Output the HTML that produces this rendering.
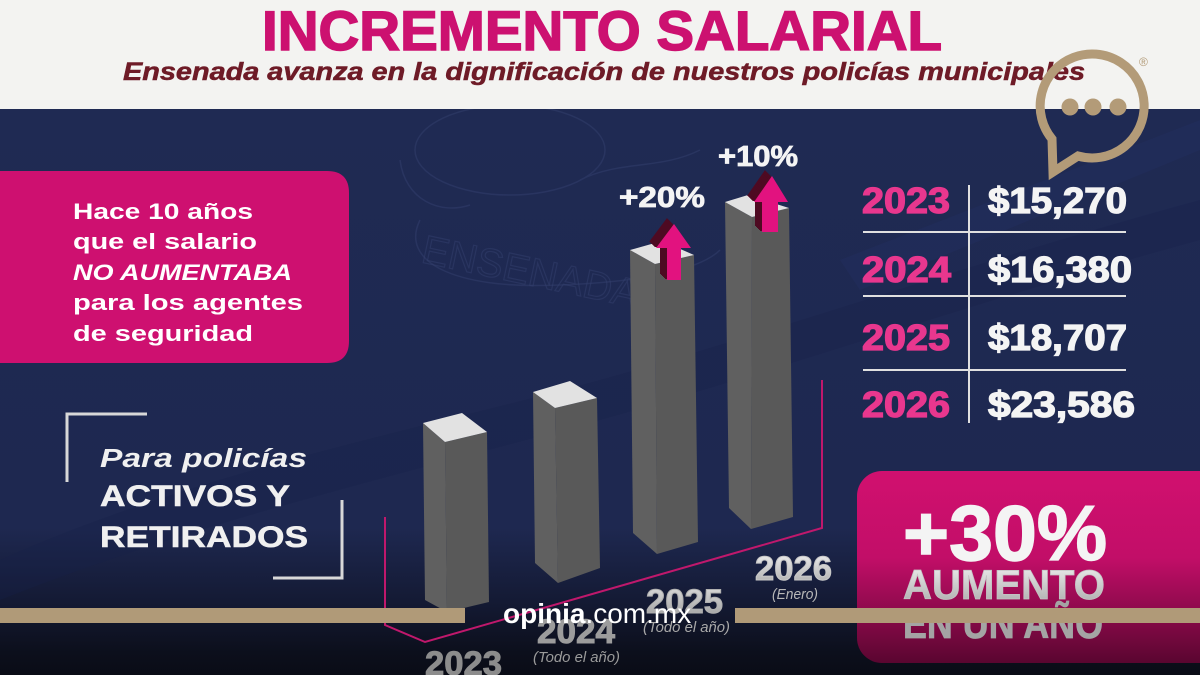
<!DOCTYPE html>
<html><head><meta charset="utf-8"><style>
html,body{margin:0;padding:0;background:#1f2a53;}
svg{display:block;}
text{font-family:"Liberation Sans",sans-serif;}
</style></head><body>
<svg width="1200" height="675" viewBox="0 0 1200 675" xmlns="http://www.w3.org/2000/svg">
<defs>
<linearGradient id="bg" x1="0" y1="109" x2="0" y2="675" gradientUnits="userSpaceOnUse">
<stop offset="0" stop-color="#1f2a53"/>
<stop offset="0.74" stop-color="#1e2850"/>
<stop offset="0.87" stop-color="#141a34"/>
<stop offset="0.96" stop-color="#0c0f1c"/>
<stop offset="1" stop-color="#0a0c16"/>
</linearGradient>
<linearGradient id="pinkbox" x1="0" y1="471" x2="0" y2="663" gradientUnits="userSpaceOnUse">
<stop offset="0" stop-color="#d1106f"/>
<stop offset="0.45" stop-color="#c20e68"/>
<stop offset="1" stop-color="#5a0630"/>
</linearGradient>
<linearGradient id="silver" x1="0" y1="0" x2="0" y2="1">
<stop offset="0" stop-color="#f2f2f2"/>
<stop offset="1" stop-color="#a8a8a8"/>
</linearGradient>
<linearGradient id="silver2" x1="0" y1="0" x2="0" y2="1">
<stop offset="0" stop-color="#e0e0e0"/>
<stop offset="1" stop-color="#9a9a9a"/>
</linearGradient>
</defs>

<!-- background -->
<rect x="0" y="0" width="1200" height="675" fill="url(#bg)"/>
<g opacity="0.3">
<path d="M0,560 C200,470 420,430 600,380 C780,330 980,260 1200,200 L1200,240 C980,300 780,370 600,420 C420,470 200,520 0,600 Z" fill="#18204a"/>
<path d="M840,260 L1200,120 L1200,150 L860,290 Z" fill="#253166"/>
</g>
<!-- faint seal -->
<g fill="none" stroke="#34406e" stroke-width="1.5" opacity="0.5">
<ellipse cx="510" cy="150" rx="95" ry="45"/>
<path d="M400,160 C405,200 440,215 470,205"/>
<path d="M420,220 C400,260 450,290 560,285 C640,282 700,270 720,250"/>
<path d="M580,180 C620,160 660,170 700,150"/>
</g>
<text x="420" y="262" font-size="40" fill="none" stroke="#34406e" stroke-width="1.2" opacity="0.5" transform="rotate(12 420 262)">ENSENADA</text>

<!-- header -->
<rect x="0" y="0" width="1200" height="109" fill="#f3f3f1"/>
<text x="262" y="50" font-size="56" font-weight="bold" fill="#cc1170" stroke="#cc1170" stroke-width="1.5" textLength="680" lengthAdjust="spacingAndGlyphs">INCREMENTO SALARIAL</text>
<g transform="translate(123,80) scale(1,0.88)">
<text x="0" y="0" font-size="28" font-weight="bold" font-style="italic" fill="#6e1b27" stroke="#6e1b27" stroke-width="0.6" textLength="962" lengthAdjust="spacingAndGlyphs">Ensenada avanza en la dignificación de nuestros policías municipales</text>
</g>
<text x="1139" y="66" font-size="12" fill="#b39b78">®</text>

<!-- logo -->
<path d="M1052,139 L1053,172 L1078,156 A52,52 0 1,0 1052,139 Z" fill="none" stroke="#b39b78" stroke-width="9" stroke-linejoin="miter"/>
<g fill="#b39b78">
<circle cx="1070" cy="107" r="8.5"/>
<circle cx="1093" cy="107" r="8.5"/>
<circle cx="1118" cy="107" r="8.5"/>
</g>

<!-- left pink box -->
<path d="M0,171 L327,171 Q349,171 349,193 L349,341 Q349,363 327,363 L0,363 Z" fill="#ce1070"/>
<g fill="#ffffff" font-size="27" font-weight="bold">
<text transform="translate(73,219) scale(1,0.82)" textLength="180" lengthAdjust="spacingAndGlyphs">Hace 10 años</text>
<text transform="translate(73,249) scale(1,0.82)" textLength="184" lengthAdjust="spacingAndGlyphs">que el salario</text>
<text transform="translate(73,280) scale(1,0.82)" font-style="italic" textLength="219" lengthAdjust="spacingAndGlyphs">NO AUMENTABA</text>
<text transform="translate(73,310) scale(1,0.82)" textLength="230" lengthAdjust="spacingAndGlyphs">para los agentes</text>
<text transform="translate(73,341) scale(1,0.82)" textLength="180" lengthAdjust="spacingAndGlyphs">de seguridad</text>
</g>

<!-- bracket -->
<g fill="none" stroke="#d8d8d8" stroke-width="3">
<path d="M147,414 L67,414 L67,482"/>
<path d="M342,500 L342,578 L273,578"/>
</g>
<text transform="translate(100,467) scale(1,0.85)" font-size="31" font-style="italic" font-weight="bold" fill="#f0f0f0" textLength="207" lengthAdjust="spacingAndGlyphs">Para policías</text>
<text transform="translate(100,506) scale(1,0.88)" font-size="34" font-weight="bold" fill="#f0f0f0" stroke="#f0f0f0" stroke-width="0.6" textLength="190" lengthAdjust="spacingAndGlyphs">ACTIVOS Y</text>
<text transform="translate(100,547) scale(1,0.88)" font-size="34" font-weight="bold" fill="#f0f0f0" stroke="#f0f0f0" stroke-width="0.6" textLength="208" lengthAdjust="spacingAndGlyphs">RETIRADOS</text>

<!-- axis line -->
<path d="M385,517 L385,625 L425,642 L822,528 L822,380" fill="none" stroke="#c0186c" stroke-width="2"/>

<!-- bars -->
<g>
<polygon points="423,423 445,442 447,612 425,600" fill="#606060"/>
<polygon points="445,442 487,432 489,602 447,612" fill="#595959"/>
<polygon points="423,423 462,413 487,432 445,442" fill="#e2e2e2"/>
<polygon points="533,392 555,408 558,583 535,563" fill="#606060"/>
<polygon points="555,408 597,398 600,568 558,583" fill="#595959"/>
<polygon points="533,392 570,381 597,398 555,408" fill="#e2e2e2"/>
<polygon points="630,250 655,264 657,554 633,533" fill="#606060"/>
<polygon points="655,264 694,255 698,542 657,554" fill="#595959"/>
<polygon points="630,250 662,241 694,255 655,264" fill="#e2e2e2"/>
<polygon points="725,202 752,217 751,529 729,508" fill="#606060"/>
<polygon points="752,217 789,208 793,517 751,529" fill="#595959"/>
<polygon points="725,202 748,195 789,208 752,217" fill="#e2e2e2"/>
</g>

<!-- arrows -->
<g fill="#4e0a22">
<polygon transform="translate(-7,-6)" points="674,224 691,248 681,248 681,280 667,280 667,248 656,248"/>
<polygon transform="translate(-6,-5)" points="674,224 691,248 681,248 681,280 667,280 667,248 656,248"/>
<polygon transform="translate(-5,-4)" points="674,224 691,248 681,248 681,280 667,280 667,248 656,248"/>
<polygon transform="translate(-4,-3)" points="674,224 691,248 681,248 681,280 667,280 667,248 656,248"/>
<polygon transform="translate(-3,-2)" points="674,224 691,248 681,248 681,280 667,280 667,248 656,248"/>
<polygon transform="translate(-2,-1)" points="674,224 691,248 681,248 681,280 667,280 667,248 656,248"/>
<polygon transform="translate(-7,-6)" points="772,176 788,202 778,202 778,232 762,232 762,202 754,202"/>
<polygon transform="translate(-6,-5)" points="772,176 788,202 778,202 778,232 762,232 762,202 754,202"/>
<polygon transform="translate(-5,-4)" points="772,176 788,202 778,202 778,232 762,232 762,202 754,202"/>
<polygon transform="translate(-4,-3)" points="772,176 788,202 778,202 778,232 762,232 762,202 754,202"/>
<polygon transform="translate(-3,-2)" points="772,176 788,202 778,202 778,232 762,232 762,202 754,202"/>
<polygon transform="translate(-2,-1)" points="772,176 788,202 778,202 778,232 762,232 762,202 754,202"/>
</g>
<g fill="#e2127f">
<polygon points="674,224 691,248 681,248 681,280 667,280 667,248 656,248"/>
<polygon points="772,176 788,202 778,202 778,232 762,232 762,202 754,202"/>
</g>
<text x="619" y="207" font-size="29" font-weight="bold" fill="#f4f4f4" stroke="#f4f4f4" stroke-width="0.8" textLength="86" lengthAdjust="spacingAndGlyphs">+20%</text>
<text x="718" y="166" font-size="29" font-weight="bold" fill="#f4f4f4" stroke="#f4f4f4" stroke-width="0.8" textLength="80" lengthAdjust="spacingAndGlyphs">+10%</text>

<!-- year labels -->
<g font-weight="bold" font-size="34" stroke-width="1">
<text x="755" y="580" fill="url(#silver)" stroke="#c8c8c8" textLength="77" lengthAdjust="spacingAndGlyphs">2026</text>
<text x="646" y="613" fill="url(#silver2)" stroke="#b0b0b0" textLength="77" lengthAdjust="spacingAndGlyphs">2025</text>
<text x="537" y="643" fill="#9c9c9c" stroke="#9c9c9c" textLength="78" lengthAdjust="spacingAndGlyphs">2024</text>
<text x="425" y="675" fill="#8c8c8c" stroke="#8c8c8c" textLength="77" lengthAdjust="spacingAndGlyphs">2023</text>
</g>
<text x="772" y="599" font-size="15" font-style="italic" fill="#b8b8b8" textLength="46" lengthAdjust="spacingAndGlyphs">(Enero)</text>
<text x="643" y="632" font-size="15" font-style="italic" fill="#a8a8a8" textLength="87" lengthAdjust="spacingAndGlyphs">(Todo el año)</text>
<text x="533" y="662" font-size="15" font-style="italic" fill="#9a9a9a" textLength="87" lengthAdjust="spacingAndGlyphs">(Todo el año)</text>

<!-- table -->
<g stroke="#e0e0e0" stroke-width="2">
<line x1="863" y1="232" x2="1126" y2="232"/>
<line x1="863" y1="296" x2="1126" y2="296"/>
<line x1="863" y1="370" x2="1126" y2="370"/>
<line x1="969" y1="185" x2="969" y2="423"/>
</g>
<g font-size="36" font-weight="bold" stroke-width="1.3">
<text x="862" y="213" fill="#e8378e" stroke="#e8378e" textLength="88" lengthAdjust="spacingAndGlyphs">2023</text>
<text x="862" y="282" fill="#e8378e" stroke="#e8378e" textLength="89" lengthAdjust="spacingAndGlyphs">2024</text>
<text x="862" y="350" fill="#e8378e" stroke="#e8378e" textLength="88" lengthAdjust="spacingAndGlyphs">2025</text>
<text x="862" y="417" fill="#e8378e" stroke="#e8378e" textLength="88" lengthAdjust="spacingAndGlyphs">2026</text>
<text x="988" y="213" fill="#f4f4f4" stroke="#f4f4f4" textLength="139" lengthAdjust="spacingAndGlyphs">$15,270</text>
<text x="988" y="282" fill="#f4f4f4" stroke="#f4f4f4" textLength="144" lengthAdjust="spacingAndGlyphs">$16,380</text>
<text x="988" y="350" fill="#f4f4f4" stroke="#f4f4f4" textLength="139" lengthAdjust="spacingAndGlyphs">$18,707</text>
<text x="988" y="417" fill="#f4f4f4" stroke="#f4f4f4" textLength="147" lengthAdjust="spacingAndGlyphs">$23,586</text>
</g>

<!-- big pink box -->
<rect x="857" y="471" width="380" height="192" rx="25" fill="url(#pinkbox)"/>
<text x="903" y="560" font-size="78" font-weight="bold" fill="#f4f4f4" stroke="#f4f4f4" stroke-width="1.5" textLength="204" lengthAdjust="spacingAndGlyphs">+30%</text>
<text x="903" y="599" font-size="42" font-weight="bold" fill="url(#silver)" stroke="#c4c4c4" stroke-width="0.8" textLength="202" lengthAdjust="spacingAndGlyphs">AUMENTO</text>
<text x="903" y="638" font-size="42" font-weight="bold" fill="#a4a4a4" stroke="#a4a4a4" stroke-width="0.8" textLength="200" lengthAdjust="spacingAndGlyphs">EN UN AÑO</text>

<!-- footer bars -->
<rect x="0" y="608" width="465" height="15" fill="#b09a78"/>
<rect x="735" y="608" width="465" height="15" fill="#b09a78"/>
<text x="503" y="623" font-size="28" fill="#ffffff"><tspan font-weight="bold">opinia</tspan><tspan>.com.mx</tspan></text>
</svg>
</body></html>
